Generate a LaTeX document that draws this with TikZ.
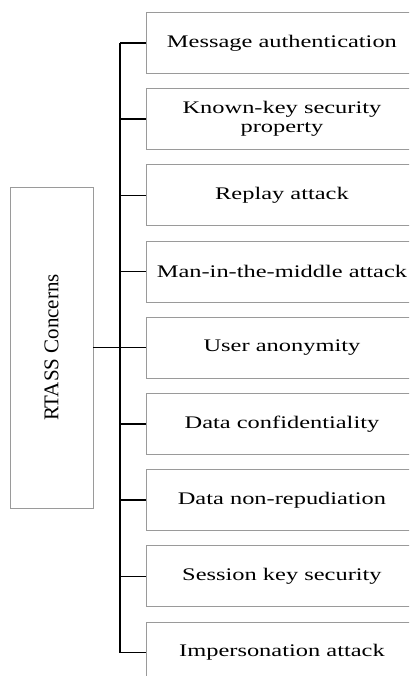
\documentclass[tikz,border=0pt]{standalone}
\usepackage{fontspec}
\setmainfont{Liberation Serif}
\definecolor{boxline}{HTML}{9A9A9A}
\newcommand\widetxt[1]{\scalebox{1.38}[1]{#1}}
\begin{document}
\begin{tikzpicture}[x=1pt,y=1pt,
  concern/.style={draw=boxline, line width=0.9pt, anchor=north west,
    minimum width=271pt, minimum height=61pt, inner sep=0pt,
    align=center, font=\fontsize{17.7}{20}\selectfont, text=black},
  rootbox/.style={draw=boxline, line width=0.9pt, minimum width=83pt,
    minimum height=321pt, inner sep=0pt, font=\fontsize{21}{24}\selectfont},
  bus/.style={line width=1.9pt, black},
  stub/.style={line width=1.4pt, black}]
\useasboundingbox (0,0) rectangle (409,-676);
\clip (0,0) rectangle (409,-676);

% list of concerns, one box per row
\node[concern] (c1) at (146,-12)    {\widetxt{Message authentication}};
\node[concern] (c2) at (146,-88.2)  {\widetxt{Known-key security}\\[-1pt]\widetxt{property}};
\node[concern] (c3) at (146,-164.4) {\widetxt{Replay attack}};
\node[concern] (c4) at (146,-240.6) {\widetxt{Man-in-the-middle attack}};
\node[concern] (c5) at (146,-316.8) {\widetxt{User anonymity}};
\node[concern] (c6) at (146,-393)   {\widetxt{Data confidentiality}};
\node[concern] (c7) at (146,-469.2) {\widetxt{Data non-repudiation}};
\node[concern] (c8) at (146,-545.4) {\widetxt{Session key security}};
\node[concern] (c9) at (146,-621.6) {\widetxt{Impersonation attack}};

% root box with vertical title
\node[rootbox] (rt) at (51.5,-347.5) {\rotatebox{90}{RTASS Concerns}};

% vertical bus
\coordinate (bx) at (120,0);
\draw[bus] (c1.west -| bx) -- (c9.west -| bx);

% branches
\foreach \i in {1,...,9} {
  \draw[stub] (c\i.west -| bx) -- (c\i.west);
}
\draw[stub] (rt.east) -- (rt.east -| bx);
\end{tikzpicture}
\end{document}
